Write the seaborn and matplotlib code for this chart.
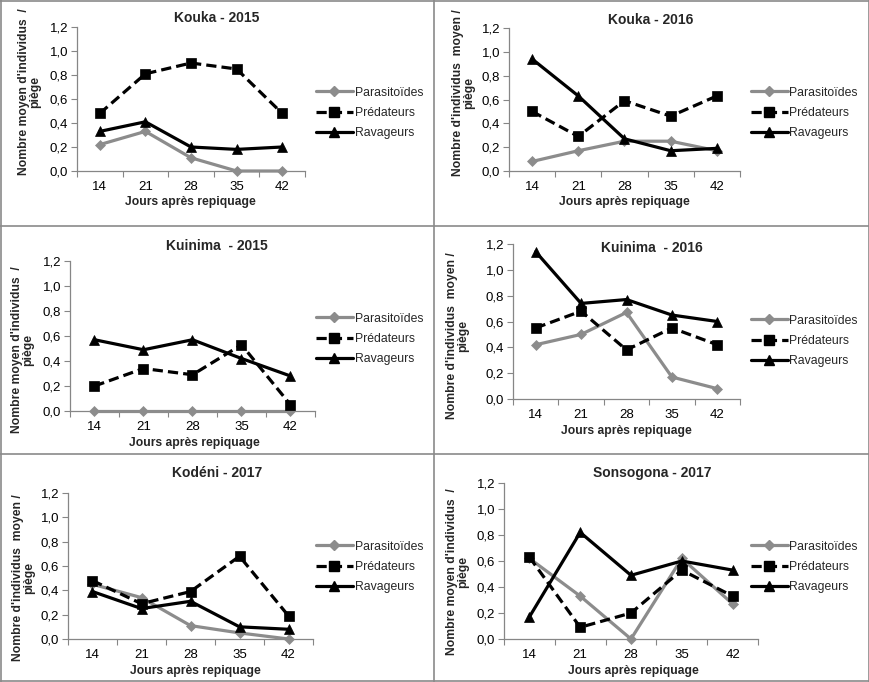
import numpy as np
import pandas as pd
import matplotlib
matplotlib.use("Agg")
import matplotlib.pyplot as plt
import seaborn as sns
from matplotlib.lines import Line2D

# ---------------- data ----------------
days = ["14", "21", "28", "35", "42"]
series = ["Parasitoïdes", "Prédateurs", "Ravageurs"]

titles = ["Kouka - 2015", "Kouka - 2016", "Kuinima  - 2015",
          "Kuinima  - 2016", "Kodéni - 2017", "Sonsogona - 2017"]
ylabels = ["Nombre moyen d'individus  /\npiège",
           "Nombre d'individus  moyen /\npiège",
           "Nombre moyen d'individus  /\npiège",
           "Nombre d'individus  moyen /\npiège",
           "Nombre d'individus  moyen /\npiège",
           "Nombre moyen d'individus  /\npiège"]
xlabel = "Jours après repiquage"
yticks = [0.0, 0.2, 0.4, 0.6, 0.8, 1.0, 1.2]

kouka15_para = [0.22, 0.33, 0.11, 0.00, 0.00]
kouka15_pred = [0.48, 0.81, 0.90, 0.85, 0.48]
kouka15_rav = [0.33, 0.41, 0.20, 0.18, 0.20]

kouka16_para = [0.08, 0.17, 0.25, 0.25, 0.17]
kouka16_pred = [0.50, 0.29, 0.59, 0.46, 0.63]
kouka16_rav = [0.94, 0.63, 0.27, 0.17, 0.19]

kuinima15_para = [0.00, 0.00, 0.00, 0.00, 0.00]
kuinima15_pred = [0.20, 0.34, 0.29, 0.53, 0.05]
kuinima15_rav = [0.57, 0.49, 0.57, 0.42, 0.28]

kuinima16_para = [0.42, 0.50, 0.67, 0.17, 0.08]
kuinima16_pred = [0.55, 0.68, 0.38, 0.55, 0.42]
kuinima16_rav = [1.14, 0.74, 0.77, 0.65, 0.60]

kodeni17_para = [0.45, 0.34, 0.11, 0.05, 0.00]
kodeni17_pred = [0.48, 0.29, 0.39, 0.68, 0.19]
kodeni17_rav = [0.39, 0.25, 0.31, 0.10, 0.08]

sonsogona17_para = [0.62, 0.33, 0.00, 0.62, 0.27]
sonsogona17_pred = [0.63, 0.09, 0.20, 0.53, 0.33]
sonsogona17_rav = [0.17, 0.82, 0.49, 0.60, 0.53]

panel_data = [
    (kouka15_para, kouka15_pred, kouka15_rav),
    (kouka16_para, kouka16_pred, kouka16_rav),
    (kuinima15_para, kuinima15_pred, kuinima15_rav),
    (kuinima16_para, kuinima16_pred, kuinima16_rav),
    (kodeni17_para, kodeni17_pred, kodeni17_rav),
    (sonsogona17_para, sonsogona17_pred, sonsogona17_rav),
]

# ---------------- style ----------------
sns.set_theme(style="white")
plt.rcParams["font.family"] = ["Liberation Sans", "DejaVu Sans"]

W, H = 870, 682
fig = plt.figure(figsize=(W / 100, H / 100), dpi=100)
fig.patch.set_facecolor("white")

def fx(x):
    return x / W

def fy(y):
    return 1 - y / H

GRAY = "#8c8c8c"
AXC = "#868686"
colors = [GRAY, "black", "black"]
markers = ["D", "s", "^"]
msizes = [5.5, 7, 7.5]
styles = ["-", (0, (3.2, 1.6)), "-"]

# axes rectangles in pixels: left, right, top, bottom
axes_px = [
    (77, 305, 27, 171),
    (509, 740, 28, 171),
    (70, 315, 261, 411),
    (513, 740, 244, 399),
    (68, 313, 493, 639),
    (504, 758, 483, 639),
]
title_px = [(217, 18), (651, 20), (217, 246), (652, 248), (217, 473), (652, 473)]
xlabel_px = [(190, 202), (624, 202), (194, 443), (626, 431), (195, 671), (633, 671)]
ylabel_px = [(29.5, 92), (463.5, 93), (22.5, 350), (457.5, 336), (23.5, 578), (457.5, 572)]
legend_px = [(316, 113), (751, 113), (316, 339), (751, 341), (316, 567), (751, 567)]

for i, (l, r, t, b) in enumerate(axes_px):
    ax = fig.add_axes([fx(l), fy(b), (r - l) / W, (b - t) / H])
    ax.set_facecolor("none")
    df = pd.DataFrame({
        "Jour": days * 3,
        "Valeur": list(panel_data[i][0]) + list(panel_data[i][1]) + list(panel_data[i][2]),
        "Groupe": [s for s in series for _ in days],
    })
    for j, s in enumerate(series):
        sub = df[df["Groupe"] == s]
        sns.lineplot(data=sub, x="Jour", y="Valeur", ax=ax, color=colors[j],
                     marker=markers[j], markersize=msizes[j],
                     markeredgecolor=colors[j], markeredgewidth=0.5,
                     linewidth=2.3, linestyle=styles[j], sort=False,
                     legend=False, clip_on=False, zorder=3 + j)
    ax.set_xlim(-0.5, 4.5)
    ax.set_ylim(0, 1.2)
    ax.set_yticks(yticks)
    ax.set_yticklabels([f"{v:.1f}".replace(".", ",") for v in yticks])
    ax.set_xticks(range(len(days)))
    ax.set_xticklabels(days)
    ax.set_xticks(np.arange(-0.5, len(days), 1.0), minor=True)
    ax.tick_params(axis="x", which="major", length=0, pad=7.5, labelsize=9.5, colors="black")
    ax.tick_params(axis="x", which="minor", length=4.5, width=0.8, direction="out", color=AXC, bottom=True)
    ax.tick_params(axis="y", which="major", length=4.5, width=0.8, direction="out", color=AXC,
                   pad=2, labelsize=9.5, left=True, labelcolor="black")
    ax.set_xlabel("")
    ax.set_ylabel("")
    for sp in ["top", "right"]:
        ax.spines[sp].set_visible(False)
    for sp in ["left", "bottom"]:
        ax.spines[sp].set_color(AXC)
        ax.spines[sp].set_linewidth(0.9)
    ax.grid(False)

    tx, ty = title_px[i]
    fig.text(fx(tx), fy(ty), titles[i], ha="center", va="center",
             fontsize=10, fontweight="bold")
    lx, ly = xlabel_px[i]
    fig.text(fx(lx), fy(ly), xlabel, ha="center", va="center",
             fontsize=8.7, fontweight="bold")
    yx, yy = ylabel_px[i]
    fig.text(fx(yx), fy(yy), ylabels[i], ha="center", va="center", rotation=90,
             multialignment="center", fontsize=8.7, fontweight="bold", linespacing=0.85)

    handles = [Line2D([], [], color=colors[j], marker=markers[j], markersize=msizes[j],
                      markeredgecolor=colors[j], linewidth=2.3, linestyle=styles[j])
               for j in range(3)]
    gx, gy = legend_px[i]
    fig.legend(handles, series, loc="center left",
               bbox_to_anchor=(fx(gx), fy(gy)), bbox_transform=fig.transFigure,
               frameon=False, fontsize=8.8, handlelength=3.0, handletextpad=0.15,
               labelspacing=0.68, borderpad=0, borderaxespad=0)

# panel borders
BC = "#8a8a8a"
for xs, ys in [([0.5, 0.5], [0, H]), ([W - 1, W - 1], [0, H]), ([434, 434], [0, H]),
               ([0, W], [0.5, 0.5]), ([0, W], [H - 1, H - 1]),
               ([0, W], [226, 226]), ([0, W], [454, 454])]:
    fig.add_artist(Line2D([fx(x) for x in xs], [fy(y) for y in ys],
                          transform=fig.transFigure, color=BC, linewidth=1.2))

fig.savefig("out.png", dpi=100, facecolor="white")
